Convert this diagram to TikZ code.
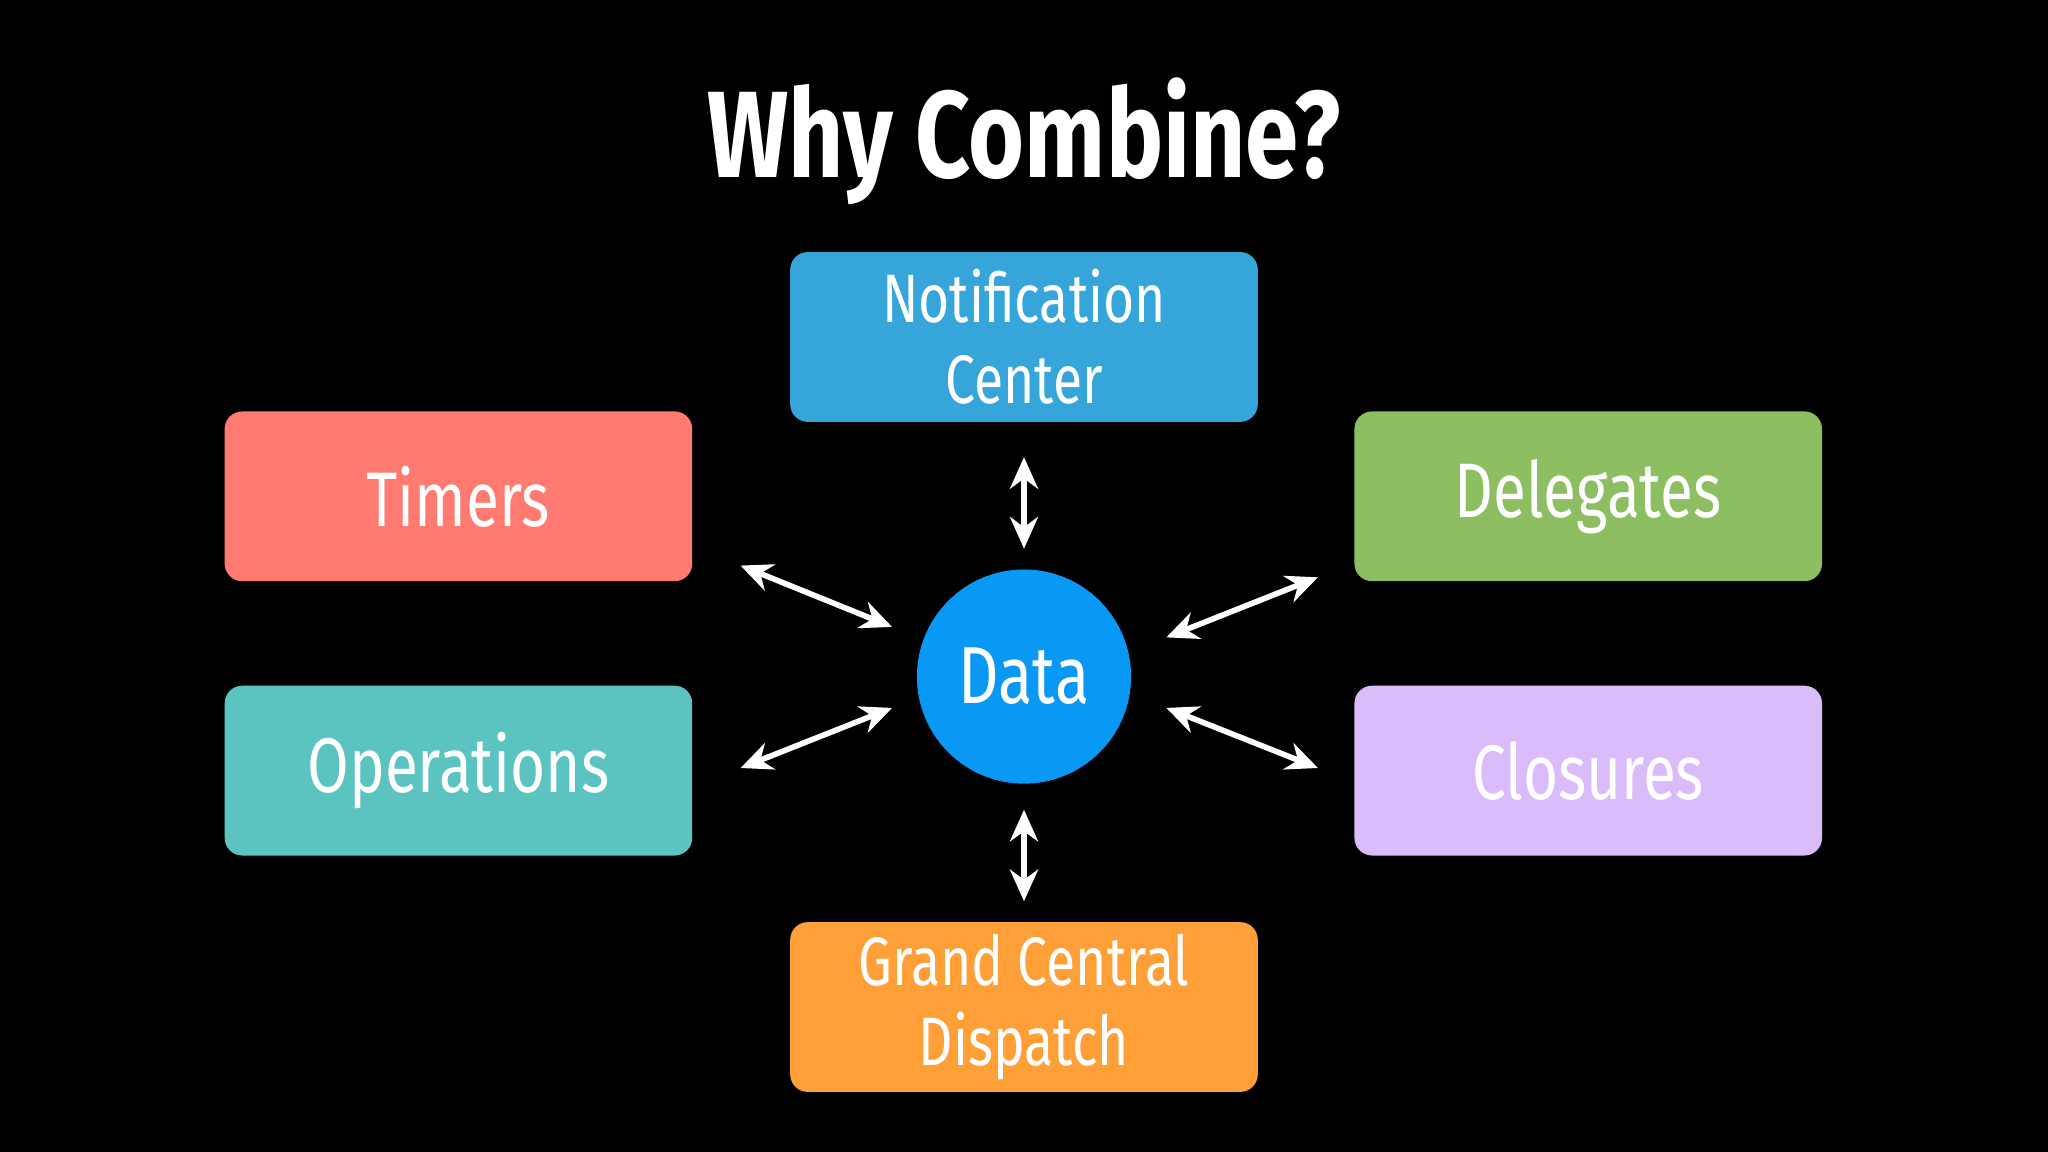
\documentclass[tikz,border=0pt]{standalone}
\usepackage{fontspec}
\setmainfont[FakeStretch=0.78]{Fira Sans}
\usetikzlibrary{arrows.meta}
\definecolor{cNotif}{HTML}{36A6DA}
\definecolor{cTimer}{HTML}{FF7B72}
\definecolor{cDeleg}{HTML}{8DBF62}
\definecolor{cOper}{HTML}{5CC4C0}
\definecolor{cClos}{HTML}{D9BCF9}
\definecolor{cGCD}{HTML}{FF9F38}
\definecolor{cData}{HTML}{0A98F5}
\tikzset{
  box/.style={draw=none,rounded corners=5pt,minimum width=358*0.013061cm,minimum height=130*0.013061cm,text=white,align=center,font=\fontsize{22}{24}\selectfont,inner sep=0pt},
  box2/.style={box,font=\fontsize{19.5}{23}\selectfont},
  link/.style={white,line width=1.6pt,{Stealth[length=9pt,width=8pt]}-{Stealth[length=9pt,width=8pt]}}
}
\begin{document}
\begin{tikzpicture}[x=0.013061cm,y=-0.013061cm]
\fill[black] (0,0) rectangle (1568,882);
\useasboundingbox (0,0) rectangle (1568,882);
\node[text=white,font=\fontsize{35}{40}\selectfont\bfseries] (title) at (784,108) {Why Combine?};
\node[box2,fill=cNotif] (notif) at (784,258) {Notification\\Center};
\node[box,fill=cTimer] (timers) at (351,380) {Timers};
\node[box,fill=cDeleg] (deleg) at (1216,380) {Delegates};
\node[box,fill=cOper] (oper) at (351,590) {Operations};
\node[box,fill=cClos] (clos) at (1216,590) {Closures};
\node[box2,fill=cGCD] (gcd) at (784,771) {Grand Central\\Dispatch};
\node[circle,fill=cData,minimum size=164*0.013061cm,inner sep=0pt,text=white,font=\fontsize{23}{26}\selectfont] (data) at (784,518) {Data};
\coordinate (a1) at (784,350); \coordinate (b1) at (784,420);
\coordinate (a2) at (784,620); \coordinate (b2) at (784,690);
\coordinate (a3) at (567,433); \coordinate (b3) at (683,480);
\coordinate (a4) at (567,588); \coordinate (b4) at (683,542);
\coordinate (a5) at (1009,442); \coordinate (b5) at (893,488);
\coordinate (a6) at (1009,588); \coordinate (b6) at (893,542);
\foreach \i in {1,...,6}{\draw[link] (a\i) -- (b\i);}
\end{tikzpicture}
\end{document}
